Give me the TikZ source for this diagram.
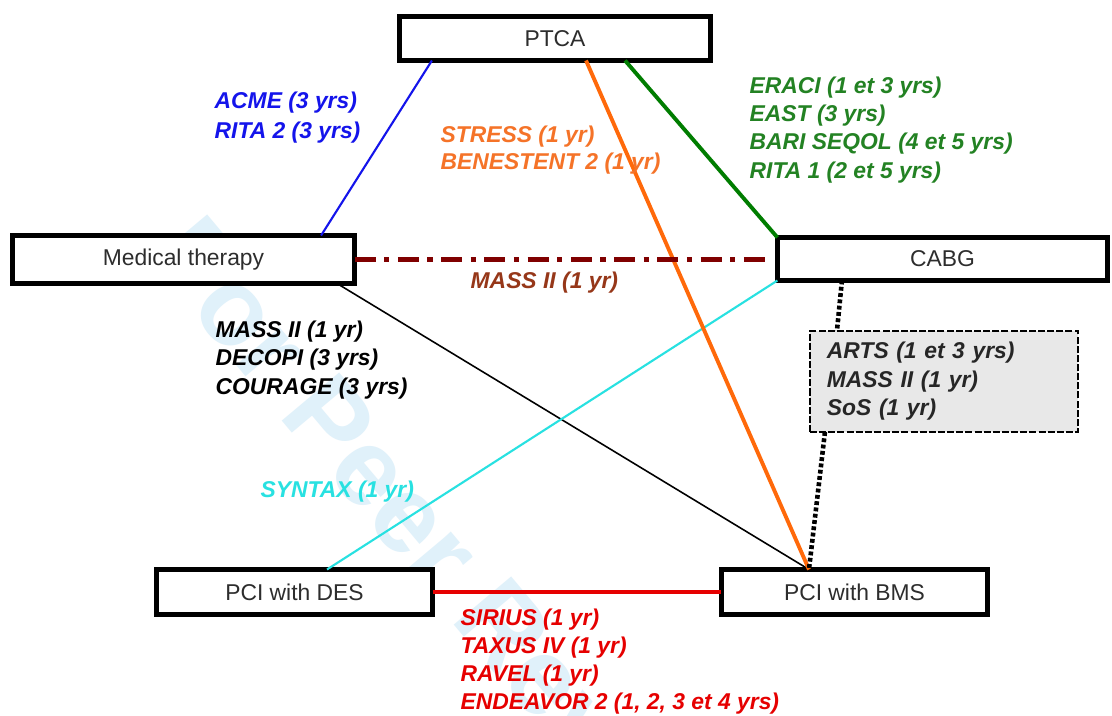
\documentclass[tikz,border=0pt]{standalone}
\usepackage{fontspec}
\setmainfont{Liberation Sans}
\definecolor{wmc}{RGB}{224,241,250}
\definecolor{cblue}{RGB}{20,20,235}
\definecolor{corange}{RGB}{255,105,10}
\definecolor{corangetxt}{RGB}{245,115,40}
\definecolor{cgreen}{RGB}{0,125,0}
\definecolor{cgreentxt}{RGB}{35,130,35}
\definecolor{cbrown}{RGB}{128,0,0}
\definecolor{cbrowntxt}{RGB}{150,55,25}
\definecolor{ccyan}{RGB}{40,225,225}
\definecolor{cred}{RGB}{230,0,0}
\definecolor{cgreyfill}{RGB}{232,232,232}
\definecolor{boxtxt}{RGB}{45,45,45}
\tikzset{
  tbox/.style={draw, line width=1.4pt, fill=white, inner sep=0pt, outer sep=0pt,
    font=\fontsize{6.5}{8}\selectfont, text=boxtxt},
  lab/.style={font=\fontsize{6.5}{8}\selectfont\bfseries\itshape, align=left,
    inner sep=0pt, anchor=west},
  conn/.style={line cap=butt}
}
\begin{document}
\begin{tikzpicture}[x=0.01cm,y=-0.01cm]
\useasboundingbox (0,0) rectangle (1112,715);
\fill[white] (0,0) rectangle (1112,715);
\begin{scope}
\clip (0,0) rectangle (1112,715);
\node[rotate=-50, anchor=west, inner sep=0pt, text=wmc,
  font=\fontsize{31}{31}\selectfont\bfseries] (wm) at (175,232) {For Peer Review};
\end{scope}

% boxes
\node[tbox, minimum width=3.11cm, minimum height=0.44cm] (PTCA) at (555,38.5) {PTCA};
\node[tbox, minimum width=3.42cm, minimum height=0.48cm] (MT) at (183.5,259.5) {Medical therapy};
\node[tbox, minimum width=3.30cm, minimum height=0.43cm] (CABG) at (942.5,259) {CABG};
\node[tbox, minimum width=2.76cm, minimum height=0.45cm] (DES) at (294.5,592) {PCI with DES};
\node[tbox, minimum width=2.66cm, minimum height=0.45cm] (BMS) at (854.5,592) {PCI with BMS};
\node[draw, dashed, dash pattern=on 2pt off 0.6pt, line width=0.5pt, fill=cgreyfill,
  minimum width=2.68cm, minimum height=1.01cm, text width=2.34cm, inner xsep=0.17cm,
  inner ysep=0pt, outer sep=0pt, align=left,
  font=\fontsize{6.5}{8.1}\selectfont\bfseries\itshape, text=black!85] (GB) at (944,381.5)
  {ARTS (1 et 3 yrs)\\MASS II (1 yr)\\SoS (1 yr)};

% connectors
\draw[conn, cblue, line width=0.6pt] ([xshift=0.325cm]PTCA.south west) -- ([xshift=3.085cm]MT.north west);
\draw[conn, cgreen, line width=1.1pt] ([xshift=0.7cm]PTCA.south) -- (CABG.north west);
\draw[conn, black, line width=0.45pt] ([xshift=-0.175cm]MT.south east) -- ([xshift=-0.455cm]BMS.north);
\draw[conn, ccyan, line width=0.6pt] ([xshift=0.325cm]DES.north) -- (CABG.south west);
\draw[conn, corange, line width=1.1pt] ([xshift=0.31cm]PTCA.south) -- ([xshift=-0.455cm]BMS.north);
\draw[conn, cbrown, line width=1.4pt, dash pattern=on 6pt off 2.4pt on 1.5pt off 2.4pt]
  (MT.east) -- ([xshift=-0.06cm]MT.east -| CABG.west);
\draw[conn, cred, line width=1.2pt] (DES.east) -- (BMS.west);
\draw[conn, black, line width=1.3pt, dash pattern=on 1.1pt off 0.7pt]
  ([xshift=-1.005cm]CABG.south) -- ([xshift=-1.07cm]GB.north);
\draw[conn, black, line width=1.3pt, dash pattern=on 1.1pt off 0.7pt]
  ([xshift=-1.19cm]GB.south) -- ([xshift=-0.455cm]BMS.north);

% labels
\node[lab, text=cblue, font=\fontsize{6.5}{8.5}\selectfont\bfseries\itshape] (lacme) at (214,118)
  {ACME (3 yrs)\\RITA 2 (3 yrs)};
\node[lab, text=corangetxt, font=\fontsize{6.5}{7.7}\selectfont\bfseries\itshape] (lstress) at (440,150.5)
  {STRESS (1 yr)\\BENESTENT 2 (1 yr)};
\node[lab, text=cgreentxt] (leraci) at (749,130)
  {ERACI (1 et 3 yrs)\\EAST (3 yrs)\\BARI SEQOL (4 et 5 yrs)\\RITA 1 (2 et 5 yrs)};
\node[lab, text=cbrowntxt] (lmass) at (470,283) {MASS II (1 yr)};
\node[lab, text=black] (lmt) at (215,360)
  {MASS II (1 yr)\\DECOPI (3 yrs)\\COURAGE (3 yrs)};
\node[lab, text=ccyan] (lsyn) at (260,492) {SYNTAX (1 yr)};
\node[lab, text=cred, font=\fontsize{6.5}{7.9}\selectfont\bfseries\itshape] (lsir) at (460,661.5)
  {SIRIUS (1 yr)\\TAXUS IV (1 yr)\\RAVEL (1 yr)\\ENDEAVOR 2 (1, 2, 3 et 4 yrs)};
\end{tikzpicture}
\end{document}
